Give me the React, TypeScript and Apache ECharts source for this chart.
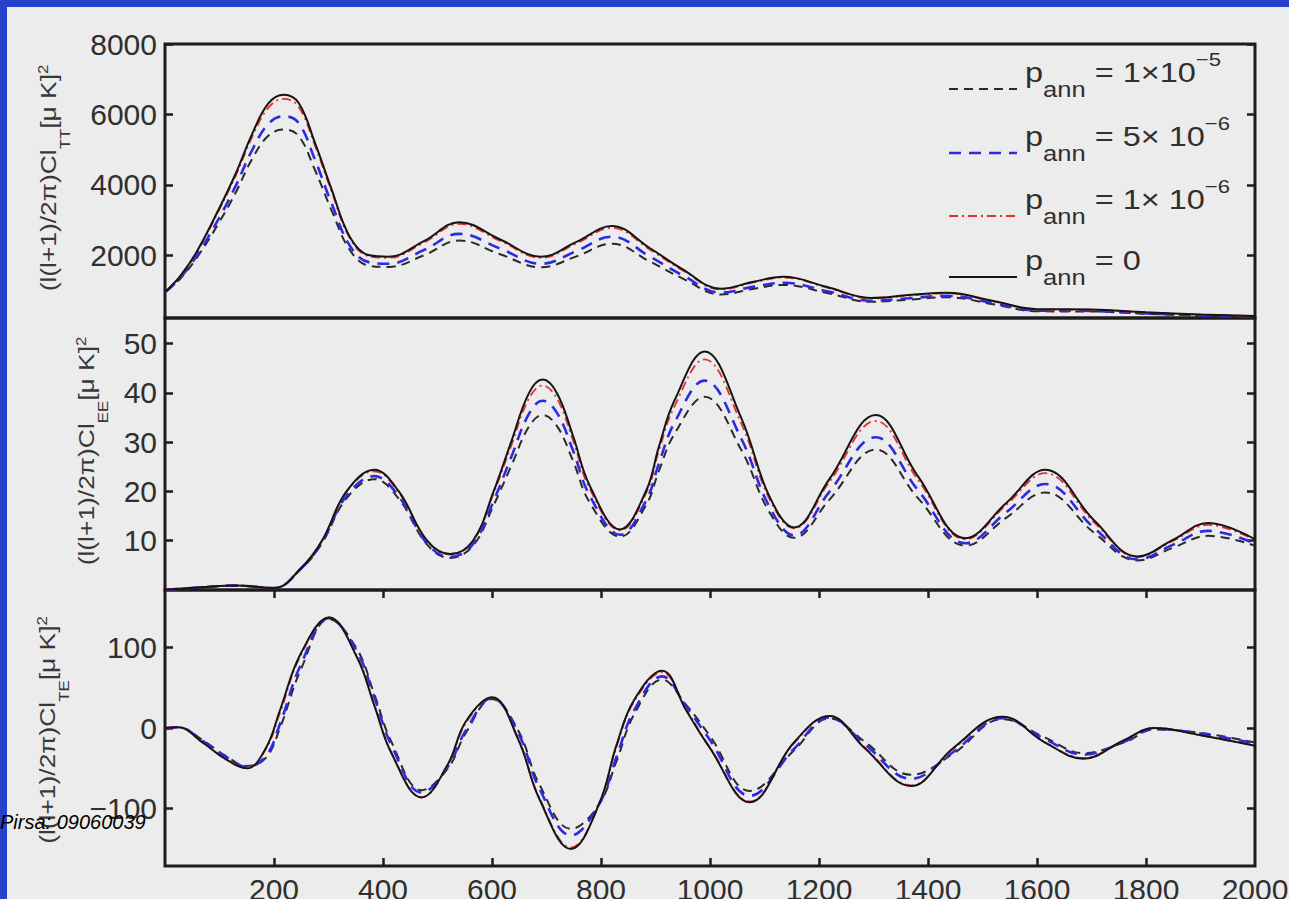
import React, { useEffect, useRef } from 'react';
import * as echarts from 'echarts';

// ---------------- data ----------------
const seriesNames = ['p_ann = 1×10^-5', 'p_ann = 5× 10^-6', 'p_ann = 1× 10^-6', 'p_ann = 0'];

// TT panel
const ttL = [2, 30, 60, 100, 130, 160, 190, 218, 245, 275, 305, 340, 375, 410, 475, 540, 615, 690, 755, 820, 890, 950, 1020, 1080, 1135, 1215, 1295, 1365, 1435, 1520, 1600, 1700, 1800, 1900, 2000];
const ttP0 = [980, 1450, 2150, 3350, 4330, 5450, 6320, 6560, 6330, 5200, 3900, 2500, 2000, 1960, 2400, 2940, 2450, 1960, 2380, 2830, 2200, 1600, 1050, 1250, 1390, 1100, 790, 870, 935, 700, 470, 460, 380, 320, 280];
const ttP1e6 = [980, 1440, 2130, 3310, 4270, 5360, 6200, 6440, 6220, 5120, 3840, 2460, 1970, 1930, 2360, 2890, 2410, 1930, 2340, 2780, 2160, 1570, 1030, 1230, 1370, 1080, 775, 855, 920, 690, 462, 452, 374, 315, 276];
const ttP5e6 = [975, 1400, 2030, 3080, 3980, 4990, 5740, 5950, 5760, 4720, 3500, 2250, 1800, 1760, 2150, 2610, 2190, 1760, 2120, 2530, 1960, 1430, 940, 1110, 1220, 980, 710, 780, 850, 640, 430, 420, 350, 295, 260];
const ttP1e5 = [970, 1370, 1970, 2950, 3790, 4740, 5400, 5570, 5390, 4430, 3300, 2130, 1700, 1670, 2000, 2420, 2030, 1660, 1970, 2330, 1820, 1340, 890, 1050, 1160, 930, 680, 740, 810, 610, 410, 405, 340, 285, 250];

// EE panel
const eeL = [2, 60, 130, 200, 250, 288, 333, 384, 429, 481, 523, 565, 603, 635, 668, 693, 719, 748, 780, 835, 883, 906, 935, 990, 1057, 1109, 1154, 1219, 1304, 1382, 1469, 1544, 1615, 1706, 1784, 1850, 1914, 2000];
const eeP0 = [0.05, 0.5, 0.9, 0.4, 4.5, 10, 20, 24.4, 20, 10, 7.3, 10, 20, 30, 40, 42.7, 40, 31.5, 21, 12.3, 20.2, 29, 38.5, 48.4, 35, 19, 12.7, 22.5, 35.5, 23, 10.5, 17.7, 24.4, 14, 6.8, 10.2, 13.6, 10.3];
const eeP1e6 = [0.05, 0.5, 0.9, 0.4, 4.5, 10, 19.9, 24.1, 19.8, 9.9, 7.2, 9.9, 19.7, 29.2, 38.9, 41.5, 38.9, 30.6, 20.4, 12.1, 19.7, 28.2, 37.3, 46.8, 33.9, 18.5, 12.5, 21.9, 34.3, 22.3, 10.3, 17.3, 23.7, 13.6, 6.7, 10, 13.2, 10.1];
const eeP5e6 = [0.05, 0.5, 0.9, 0.4, 4.4, 9.7, 19.1, 23.1, 19, 9.4, 6.7, 9.3, 18.1, 26.9, 35.8, 38.4, 36, 28.5, 19, 11.2, 18.2, 25.6, 34, 42.5, 30.8, 16.9, 11.1, 19.9, 31, 20.2, 9.5, 15.8, 21.5, 12.5, 6.2, 9.2, 12, 9.4];
const eeP1e5 = [0.05, 0.5, 0.9, 0.4, 4.3, 9.5, 18.6, 22.5, 18.5, 9.2, 6.5, 9, 17.2, 25.1, 33.2, 35.5, 33.3, 26.4, 17.6, 10.8, 17.3, 24.1, 31.7, 39.2, 28.5, 15.8, 10.6, 18.3, 28.5, 18.6, 9, 14.7, 19.8, 11.5, 6, 8.6, 11, 9];

// TE panel
const teL = [2, 24, 69, 110, 150, 185, 211, 249, 301, 352, 384, 416, 471, 519, 552, 600, 648, 687, 745, 796, 829, 861, 912, 957, 1000, 1073, 1154, 1219, 1284, 1369, 1446, 1537, 1615, 1685, 1760, 1815, 1900, 2000];
const teP0 = [0, 1, -18, -38, -50, -25, 22, 92, 137, 88, 28, -32, -86, -45, 8, 38, -14, -88, -150, -95, -20, 35, 71, 21, -25, -92, -18, 15, -25, -72, -25, 14, -18, -38, -15, 0, -9, -22];
const teP1e6 = [0, 1, -18, -38, -50, -26, 19, 90, 137, 89, 29, -31, -86, -46, 6, 38, -13, -87, -148, -96, -22, 33, 69, 22, -24, -91, -19, 15, -24, -71, -26, 14, -18, -37, -15, 0, -9, -22];
const teP5e6 = [0, 1, -16, -35, -48, -35, 5, 78, 136, 95, 38, -22, -80, -48, -3, 37, -6, -75, -133, -95, -35, 22, 64, 26, -15, -84, -26, 13, -20, -63, -30, 12, -14, -33, -17, -1, -7, -19];
const teP1e5 = [0, 1, -15, -34, -47, -37, 0, 72, 135, 98, 42, -18, -77, -50, -6, 36, -3, -70, -125, -95, -40, 17, 60, 28, -10, -78, -28, 12, -17, -58, -32, 11, -12, -31, -18, -2, -6, -18];

// axis ticks
const xTickVals = [200, 400, 600, 800, 1000, 1200, 1400, 1600, 1800];
const xLabelVals = [200, 400, 600, 800, 1000, 1200, 1400, 1600, 1800, 2000];
const ttTicks = [2000, 4000, 6000, 8000];
const eeTicks = [10, 20, 30, 40, 50];
const teTicks = [-100, 0, 100];

// legend texts (rich)
const legendRich = [
  '{m|p}{s|ann}{m| = 1×10}{e|−5}',
  '{m|p}{s|ann}{m| = 5× 10}{e|−6}',
  '{m|p}{s|ann}{m| = 1× 10}{e|−6}',
  '{m|p}{s|ann}{m| = 0}',
];

const FONT = '"Liberation Sans", Arial, Helvetica, sans-serif';
const TXT = '#2f2f2f';
const FRAME = '#1c1c1c';

const lineStyles = [
  { color: '#2a2a2a', width: 2, type: [9, 6] },
  { color: '#2b2be3', width: 2.6, type: [12, 8] },
  { color: '#e33030', width: 1.8, type: [9, 4, 2, 4] },
  { color: '#141414', width: 2, type: 'solid' },
];

const grids = [
  { left: 165, width: 1090, top: 44, height: 274 },
  { left: 165, width: 1090, top: 318, height: 272 },
  { left: 165, width: 1090, top: 590, height: 276 },
];

const yRanges = [
  { min: 220, max: 8000, ticks: ttTicks },
  { min: 0, max: 55.2, ticks: eeTicks },
  { min: -171, max: 171, ticks: teTicks },
];

const fmt = (v: number) => (v < 0 ? '−' + Math.abs(v) : String(v));
const fmtX = (v: number) => String(v);

export default function App() {
  const ref = useRef<HTMLDivElement>(null);
  useEffect(() => {
    if (!ref.current) return;
    const chart = echarts.init(ref.current, undefined, { renderer: 'svg' });

    const panels = [
      { l: ttL, vals: [ttP1e5, ttP5e6, ttP1e6, ttP0] },
      { l: eeL, vals: [eeP1e5, eeP5e6, eeP1e6, eeP0] },
      { l: teL, vals: [teP1e5, teP5e6, teP1e6, teP0] },
    ];

    const series: any[] = [];
    panels.forEach((p, pi) => {
      p.vals.forEach((v, si) => {
        series.push({
          type: 'line',
          name: seriesNames[si],
          xAxisIndex: pi,
          yAxisIndex: pi,
          data: p.l.map((x, k) => [x, v[k]]),
          smooth: 0.4,
          symbol: 'none',
          showSymbol: false,
          silent: true,
          clip: true,
          z: 2 + si,
          lineStyle: { color: lineStyles[si].color, width: lineStyles[si].width, type: lineStyles[si].type as any },
        });
      });
    });

    const tickStyle = { color: FRAME, width: 2.5 };
    const labelBase = { fontSize: 30, color: TXT, fontFamily: FONT };

    const xAxis: any[] = [0, 1, 2].map((i) => ({
      type: 'value',
      gridIndex: i,
      min: 0,
      max: 2000,
      position: 'bottom',
      axisLine: { show: false, onZero: false },
      splitLine: { show: false },
      axisTick: i === 2 ? { show: true, inside: true, length: 8, lineStyle: tickStyle, customValues: xTickVals } : { show: false },
      axisLabel: i === 2 ? { show: true, ...labelBase, margin: 8, customValues: xLabelVals, formatter: fmtX } : { show: false },
    }));
    xAxis.push({
      type: 'value',
      gridIndex: 2,
      min: 0,
      max: 2000,
      position: 'top',
      axisLine: { show: false, onZero: false },
      splitLine: { show: false },
      axisTick: { show: true, inside: true, length: 8, lineStyle: tickStyle, customValues: xTickVals },
      axisLabel: { show: false },
    });

    const yAxis: any[] = [];
    [0, 1, 2].forEach((i) => {
      yAxis.push({
        type: 'value',
        gridIndex: i,
        min: yRanges[i].min,
        max: yRanges[i].max,
        position: 'left',
        axisLine: { show: false, onZero: false },
        splitLine: { show: false },
        axisTick: { show: true, inside: true, length: 8, lineStyle: tickStyle, customValues: yRanges[i].ticks },
        axisLabel: { show: true, ...labelBase, margin: 8, customValues: yRanges[i].ticks, formatter: fmt },
      });
    });
    [0, 1, 2].forEach((i) => {
      yAxis.push({
        type: 'value',
        gridIndex: i,
        min: yRanges[i].min,
        max: yRanges[i].max,
        position: 'right',
        axisLine: { show: false, onZero: false },
        splitLine: { show: false },
        axisTick: { show: true, inside: true, length: 8, lineStyle: tickStyle, customValues: yRanges[i].ticks },
        axisLabel: { show: false },
      });
    });

    // y-axis titles (rotated rich text)
    const titleRich = {
      m: { fontSize: 22, fontFamily: FONT, fill: '#383838', color: '#383838', verticalAlign: 'middle' },
      s: { fontSize: 14, fontFamily: FONT, fill: '#383838', color: '#383838', verticalAlign: 'middle', padding: [34, 0, 0, 0] },
      e: { fontSize: 14, fontFamily: FONT, fill: '#383838', color: '#383838', verticalAlign: 'middle', padding: [0, 0, 10, 0] },
    };
    const titles = [
      { x: 48, y: 178, t: '{m|(l(l+1)/2π)Cl}{s|TT}{m|[μ K]}{e|2}' },
      { x: 86, y: 451, t: '{m|(l(l+1)/2π)Cl}{s|EE}{m|[μ K]}{e|2}' },
      { x: 47, y: 730, t: '{m|(l(l+1)/2π)Cl}{s|TE}{m|[μ K]}{e|2}' },
    ];

    const legendTextRich = {
      m: { fontSize: 28, fontFamily: FONT, fill: TXT, verticalAlign: 'middle' },
      s: { fontSize: 22, fontFamily: FONT, fill: TXT, verticalAlign: 'middle', padding: [34, 0, 0, 0] },
      e: { fontSize: 19, fontFamily: FONT, fill: TXT, verticalAlign: 'middle', padding: [0, 0, 26, 0] },
    };
    const legendY = [89, 153, 216, 277];

    const graphic: any[] = [
      { type: 'rect', shape: { x: 0, y: 0, width: 1289, height: 7 }, style: { fill: '#2741cc' }, z: 100 },
      { type: 'rect', shape: { x: 0, y: 0, width: 7, height: 899 }, style: { fill: '#2741cc' }, z: 100 },
    ];
    titles.forEach((tt) => {
      graphic.push({
        type: 'text',
        x: tt.x,
        y: tt.y,
        rotation: Math.PI / 2,
        scaleX: 1.2,
        z: 50,
        style: { text: tt.t, align: 'center', verticalAlign: 'middle', rich: titleRich },
      });
    });
    legendY.forEach((ly, i) => {
      graphic.push({
        type: 'line',
        z: 50,
        shape: { x1: 949, y1: ly, x2: 1017, y2: ly },
        style: {
          stroke: lineStyles[i].color,
          lineWidth: lineStyles[i].width,
          lineDash: Array.isArray(lineStyles[i].type) ? lineStyles[i].type : null,
        },
      });
      graphic.push({
        type: 'text',
        x: 1025,
        y: ly - 16.5,
        scaleX: 1.16,
        z: 50,
        style: { text: legendRich[i], align: 'left', verticalAlign: 'middle', rich: legendTextRich },
      });
    });
    graphic.push({
      type: 'text',
      x: 0,
      y: 822,
      z: 120,
      style: { text: 'Pirsa: 09060039', fontSize: 20, fontStyle: 'italic', fontFamily: FONT, fill: '#000', align: 'left', verticalAlign: 'middle' },
    });

    chart.setOption({
      animation: false,
      backgroundColor: '#ececec',
      grid: grids.map((g) => ({
        ...g,
        show: true,
        borderColor: FRAME,
        borderWidth: 3,
        backgroundColor: 'transparent',
        containLabel: false,
        outerBoundsMode: 'none',
      })),
      xAxis,
      yAxis,
      series,
      graphic,
    });
    return () => chart.dispose();
  }, []);

  return (
    <div
      ref={ref}
      style={{ position: 'fixed', left: 0, top: 0, width: 1289, height: 899, background: '#ececec' }}
    />
  );
}
